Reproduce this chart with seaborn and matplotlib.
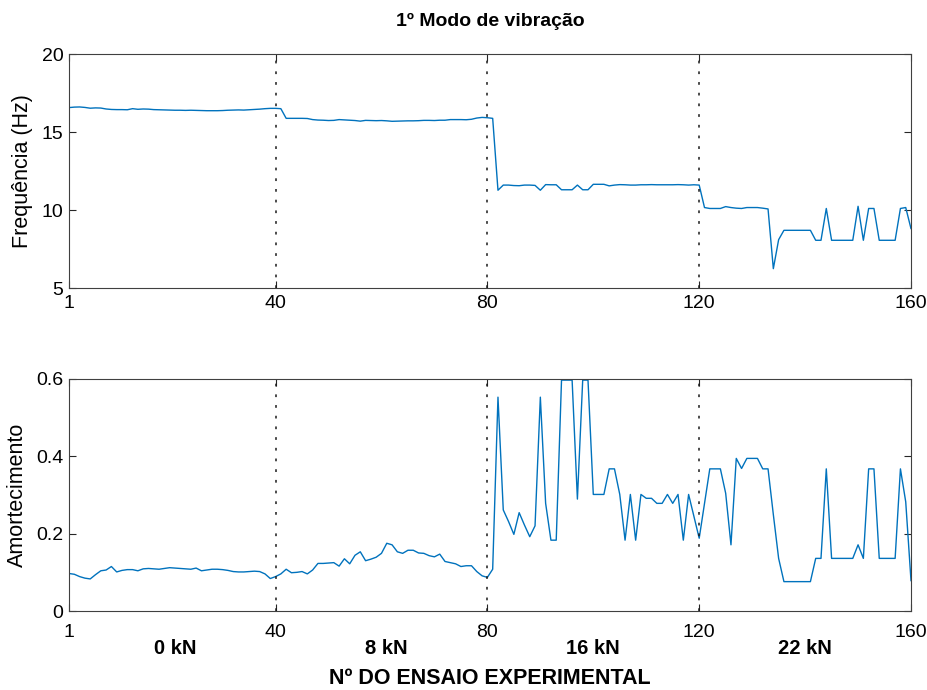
import numpy as np
import pandas as pd
import matplotlib
matplotlib.use("Agg")
import matplotlib.pyplot as plt
import matplotlib.transforms as mtransforms
import seaborn as sns

# Ensaio number 1..160
ensaio = list(range(1, 161))

# 1st mode frequency (Hz), one block per load level
freq_0kn = [16.57, 16.60, 16.61, 16.58, 16.53, 16.55, 16.54, 16.48, 16.45, 16.44,
            16.44, 16.43, 16.50, 16.46, 16.48, 16.47, 16.44, 16.43, 16.42, 16.41,
            16.40, 16.40, 16.39, 16.40, 16.39, 16.38, 16.37, 16.37, 16.37, 16.38,
            16.40, 16.41, 16.42, 16.41, 16.43, 16.45, 16.47, 16.50, 16.52, 16.52]
freq_8kn = [16.50, 15.88, 15.88, 15.88, 15.88, 15.87, 15.80, 15.77, 15.76, 15.74,
            15.75, 15.80, 15.78, 15.76, 15.74, 15.70, 15.75, 15.74, 15.73, 15.74,
            15.72, 15.69, 15.70, 15.71, 15.72, 15.72, 15.73, 15.75, 15.75, 15.74,
            15.76, 15.76, 15.80, 15.80, 15.80, 15.79, 15.82, 15.90, 15.94, 15.92]
freq_16kn = [15.88, 11.27, 11.60, 11.60, 11.57, 11.56, 11.60, 11.60, 11.58, 11.27,
             11.63, 11.62, 11.62, 11.30, 11.30, 11.30, 11.60, 11.30, 11.30, 11.65,
             11.65, 11.65, 11.55, 11.60, 11.63, 11.62, 11.60, 11.60, 11.62, 11.62,
             11.63, 11.62, 11.62, 11.62, 11.62, 11.63, 11.62, 11.60, 11.62, 11.60]
freq_22kn = [10.16, 10.10, 10.10, 10.10, 10.22, 10.16, 10.12, 10.10, 10.16, 10.16,
             10.16, 10.12, 10.07, 6.24, 8.10, 8.70, 8.70, 8.70, 8.70, 8.70,
             8.70, 8.06, 8.06, 10.10, 8.06, 8.06, 8.06, 8.06, 8.06, 10.24,
             8.06, 10.10, 10.10, 8.06, 8.06, 8.06, 8.06, 10.10, 10.16, 8.80]

# damping
amort_0kn = [0.098, 0.096, 0.090, 0.086, 0.084, 0.095, 0.105, 0.107, 0.116, 0.102,
             0.106, 0.108, 0.108, 0.105, 0.110, 0.111, 0.110, 0.109, 0.111, 0.113,
             0.112, 0.111, 0.110, 0.109, 0.112, 0.105, 0.107, 0.109, 0.109, 0.108,
             0.106, 0.103, 0.102, 0.102, 0.103, 0.104, 0.103, 0.097, 0.085, 0.090]
amort_8kn = [0.097, 0.109, 0.100, 0.101, 0.103, 0.097, 0.107, 0.124, 0.124, 0.125,
             0.126, 0.117, 0.136, 0.123, 0.145, 0.154, 0.131, 0.135, 0.140, 0.150,
             0.176, 0.172, 0.154, 0.150, 0.158, 0.158, 0.151, 0.150, 0.144, 0.141,
             0.148, 0.129, 0.126, 0.123, 0.116, 0.118, 0.118, 0.103, 0.092, 0.088]
amort_16kn = [0.109, 0.553, 0.262, 0.232, 0.199, 0.255, 0.223, 0.193, 0.221, 0.553,
              0.279, 0.184, 0.184, 0.597, 0.597, 0.597, 0.290, 0.597, 0.597, 0.302,
              0.302, 0.302, 0.368, 0.368, 0.302, 0.184, 0.302, 0.184, 0.302, 0.292,
              0.292, 0.279, 0.279, 0.302, 0.279, 0.302, 0.184, 0.302, 0.245, 0.189]
amort_22kn = [0.279, 0.368, 0.368, 0.368, 0.305, 0.172, 0.395, 0.369, 0.395, 0.395,
              0.395, 0.368, 0.368, 0.250, 0.137, 0.077, 0.077, 0.077, 0.077, 0.077,
              0.077, 0.137, 0.137, 0.368, 0.137, 0.137, 0.137, 0.137, 0.137, 0.172,
              0.137, 0.368, 0.368, 0.137, 0.137, 0.137, 0.137, 0.368, 0.283, 0.079]

load_labels = ["0 kN", "8 kN", "16 kN", "22 kN"]
load_label_x = [21, 61, 100, 140]
load_limits = [40, 80, 120]
x_ticks = [1, 40, 80, 120, 160]

df = pd.DataFrame({
    "Ensaio": ensaio,
    "Freq": freq_0kn + freq_8kn + freq_16kn + freq_22kn,
    "Amort": amort_0kn + amort_8kn + amort_16kn + amort_22kn,
})

sns.set_style("ticks")
plt.rcParams["font.family"] = ["Liberation Sans", "DejaVu Sans"]
plt.rcParams["axes.edgecolor"] = "#404040"
plt.rcParams["axes.linewidth"] = 0.8
plt.rcParams["text.color"] = "black"
plt.rcParams["axes.labelcolor"] = "black"
plt.rcParams["xtick.labelcolor"] = "black"
plt.rcParams["ytick.labelcolor"] = "black"

line_color = "#0072BD"

fig = plt.figure(figsize=(9.28, 6.9), dpi=100)
ax1 = fig.add_axes([0.0744, 0.5826, 0.9073, 0.339])
ax2 = fig.add_axes([0.0744, 0.1138, 0.9073, 0.337])

sns.lineplot(data=df, x="Ensaio", y="Freq", ax=ax1, color=line_color, lw=1.0)
sns.lineplot(data=df, x="Ensaio", y="Amort", ax=ax2, color=line_color, lw=1.0)

for ax in (ax1, ax2):
    for xv in load_limits:
        ax.axvline(xv, color="#1a1a1a", lw=1.1, ls=(0, (1.8, 5.2)))
    ax.set_xlim(1, 160)
    ax.set_xticks(x_ticks)
    ax.tick_params(direction="in", length=5, width=0.8, top=True, right=True,
                   labelsize=14, color="#262626")
    ax.tick_params(axis="y", pad=4)
    ax.set_xlabel("")
    for sp in ax.spines.values():
        sp.set_visible(True)

ax1.tick_params(axis="x", pad=5)
ax2.tick_params(axis="x", pad=9)

ax1.set_ylim(5, 20)
ax1.set_yticks([5, 10, 15, 20])
ax1.set_ylabel("Frequência (Hz)", fontsize=15.5, labelpad=6)
ax1.set_title("1º Modo de vibração", fontsize=14, fontweight="bold", pad=20)

ax2.set_ylim(0, 0.6)
ax2.set_yticks([0, 0.2, 0.4, 0.6])
ax2.set_yticklabels(["0", "0.2", "0.4", "0.6"])
ax2.set_ylabel("Amortecimento", fontsize=15.5, labelpad=6)

trans = mtransforms.blended_transform_factory(ax2.transData, ax2.transAxes)
for lab, xv in zip(load_labels, load_label_x):
    ax2.text(xv, -0.16, lab, transform=trans, ha="center", va="center",
             fontsize=14.5, fontweight="bold")

ax2.text(0.5, -0.29, "Nº DO ENSAIO EXPERIMENTAL", transform=ax2.transAxes,
         ha="center", va="center", fontsize=15.5, fontweight="bold")

fig.savefig("out.png", dpi=100)
